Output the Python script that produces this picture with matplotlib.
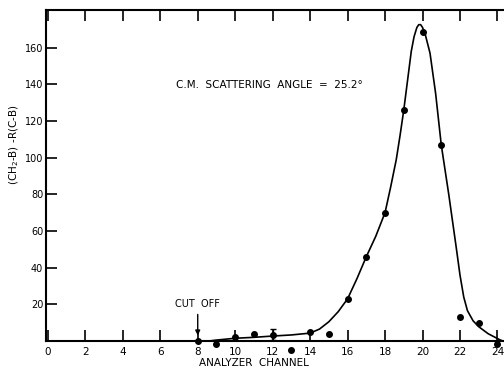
import numpy as np
import matplotlib
matplotlib.use("Agg")
import matplotlib.pyplot as plt

# measured points (analyzer channel, counts)
chan = [8, 9, 10, 11, 12, 13, 14, 15, 16, 17, 18, 19, 20, 21, 22, 23, 24]
counts = [0, -1.5, 2, 4, 3.5, -5, 5, 4, 23, 46, 70, 126, 168.5, 107, 13, 9.6, -1.8]

# error bar on channel 12
err_chan = [12]
err_val = [3.5]
err_size = [3]

# hand-drawn fit curve
curve_x = [8.6, 9, 10, 11, 12, 13, 14, 14.5, 15, 15.5, 16, 16.5, 17, 17.5, 18,
           18.3, 18.6, 18.8, 19, 19.2, 19.4, 19.55, 19.7, 19.8, 19.9, 20.0,
           20.15, 20.4, 20.7, 21, 21.4, 21.8, 22.0, 22.2, 22.4, 22.7, 23,
           23.5, 24.1, 24.4]
curve_y = [0, 0.5, 1.5, 2, 2.7, 3.3, 4.3, 6.5, 10.5, 16, 23, 34, 46, 57, 70,
           84, 99, 112, 126, 142, 158, 166, 171, 172.5, 172.5, 171,
           167, 157, 135, 107, 80, 51, 36, 24, 16.5, 11, 7.8,
           4, 0.8, -0.5]

xticks = list(range(0, 25, 2))
yticks = list(range(20, 161, 20))

plt.rcParams['font.family'] = 'DejaVu Sans'

fig = plt.figure(figsize=(5.04, 3.70), dpi=100)
W, H = 504, 370
ax = fig.add_axes([46 / W, 1 - 341 / H, (504 - 46) / W, (341 - 10) / H])

ax.plot(curve_x, curve_y, color='black', lw=1.2)
ax.plot(chan, counts, 'o', color='black', ms=4, clip_on=False, zorder=5)
ax.errorbar(err_chan, err_val, yerr=err_size, fmt='none', ecolor='black',
            elinewidth=1, capsize=2)

ax.set_xlim(-0.1, 24.35)
ax.set_ylim(0, 180.5)

ax.set_xticks(xticks)
ax.set_yticks(yticks)
ax.tick_params(axis='x', direction='in', length=8, width=1.2, top=True,
               labelsize=7.5, pad=4, color='black')
ax.tick_params(axis='y', direction='in', length=8, width=1.2,
               labelsize=7, pad=2)
for s in ['left', 'bottom', 'top']:
    ax.spines[s].set_linewidth(1.5)
ax.spines['right'].set_visible(False)

ax.text(11.85, 139.5, 'C.M.  SCATTERING  ANGLE  =  25.2°', ha='center',
        va='center', fontsize=7.5)
ax.text(8.0, 17.5, 'CUT  OFF', ha='center', va='bottom', fontsize=7)
ax.annotate('', xy=(8, 1.5), xytext=(8, 16),
            arrowprops=dict(arrowstyle='-|>', color='black', lw=1,
                            mutation_scale=7))

fig.text(254 / W, 1 - 363 / H, 'ANALYZER  CHANNEL', ha='center', va='center',
         fontsize=7.5)
fig.text(14 / W, 1 - 145 / H, '(CH$_2$-B) -R(C-B)', ha='center', va='center',
         rotation=90, fontsize=7.5)

fig.savefig('out.png', dpi=100)
